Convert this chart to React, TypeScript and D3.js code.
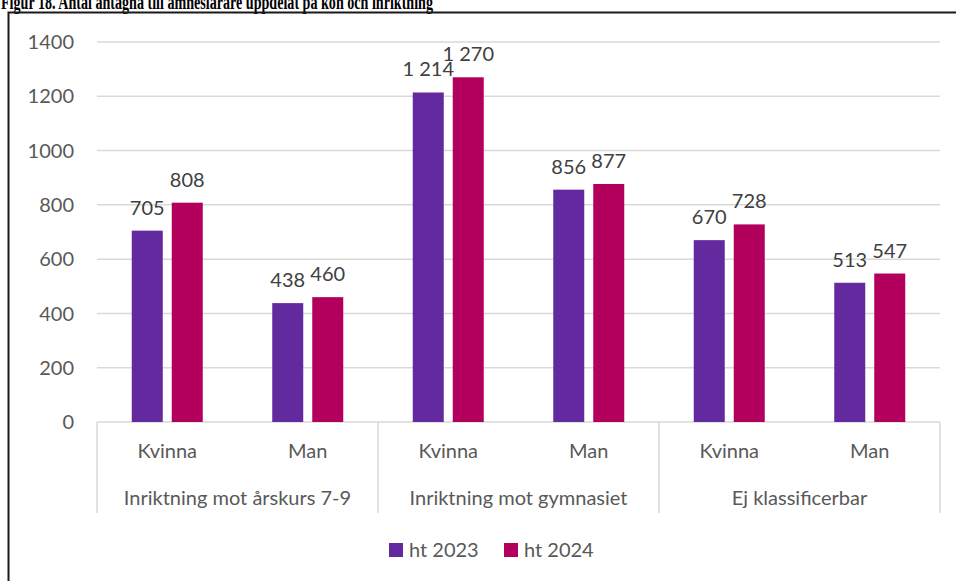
import React from "react";
import * as d3 from "d3";

const groups = ["Inriktning mot årskurs 7-9", "Inriktning mot gymnasiet", "Ej klassificerbar"];
const subcats = ["Kvinna", "Man"];
const seriesNames = ["ht 2023", "ht 2024"];
const ht2023 = [705, 438, 1214, 856, 670, 513];
const ht2024 = [808, 460, 1270, 877, 728, 547];
const yTicks = [0, 200, 400, 600, 800, 1000, 1200, 1400];
const colors = ["#63299F", "#B3005C"];
const title = "Figur 18. Antal antagna till ämneslärare uppdelat på kön och inriktning";

const W = 956, H = 581;
const plot = { left: 97, right: 940, top: 42, bottom: 422 };
const FONT = "Lato, 'Open Sans', sans-serif";
const TXT = "#595959";

export default function App() {
  const cats = groups.flatMap((g, gi) => subcats.map((s, si) => `${gi}-${si}`));
  const x0 = d3.scaleBand<string>().domain(cats).range([plot.left, plot.right]).padding(0);
  const xg = d3.scaleBand<string>().domain(groups).range([plot.left, plot.right]).padding(0);
  const x1 = d3.scaleBand<string>().domain(seriesNames).range([-35.5, 35.5]).paddingInner(0.225);
  const y = d3.scaleLinear().domain([0, 1400]).range([plot.bottom, plot.top]);
  const fmt = (v: number) => d3.format(",")(v).replace(/,/g, " ");
  const seriesData = [ht2023, ht2024];
  const axisBottom = 513;

  return (
    <svg width={W} height={H} style={{ position: "absolute", left: 0, top: 0, background: "#fff" }}>
      <text x={1} y={9} fontFamily="'Liberation Serif', 'DejaVu Serif', serif" fontWeight="bold" fontSize={20}
        textLength={432} lengthAdjust="spacingAndGlyphs" fill="#000">{title}</text>
      <rect x={8.5} y={12.5} width={1000} height={700} fill="none" stroke="#1a1a1a" strokeWidth={2} />
      {yTicks.map((t) => (
        <g key={t}>
          <line x1={plot.left} x2={plot.right} y1={y(t)} y2={y(t)} stroke="#D9D9D9" strokeWidth={1.5} />
          <text x={74} y={y(t)} dy="0.36em" textAnchor="end" fontFamily={FONT} fontSize={20} fill={TXT}>{t}</text>
        </g>
      ))}
      {[...groups.map((g) => xg(g)!), plot.right].map((xx, i) => (
        <line key={i} x1={xx} x2={xx} y1={plot.bottom} y2={axisBottom} stroke="#D9D9D9" strokeWidth={1.5} />
      ))}
      {seriesData.map((vals, si) =>
        vals.map((v, ci) => {
          const cx = x0(cats[ci])! + x0.bandwidth() / 2;
          const bx = cx + x1(seriesNames[si])!;
          return (
            <g key={`${si}-${ci}`}>
              <rect x={bx} y={y(v)} width={x1.bandwidth()} height={y(0) - y(v)} fill={colors[si]} />
              <text x={bx + x1.bandwidth() / 2} y={y(v) - 16} textAnchor="middle" fontFamily={FONT} fontSize={20} fill="#404040">{fmt(v)}</text>
            </g>
          );
        })
      )}
      {cats.map((c, ci) => (
        <text key={c} x={x0(c)! + x0.bandwidth() / 2} y={451} dy="0.36em" textAnchor="middle" fontFamily={FONT} fontSize={20} fill={TXT}>
          {subcats[ci % 2]}
        </text>
      ))}
      {groups.map((g) => (
        <text key={g} x={xg(g)! + xg.bandwidth() / 2} y={498} dy="0.36em" textAnchor="middle" fontFamily={FONT} fontSize={20} fill={TXT}>{g}</text>
      ))}
      {seriesNames.map((s, i) => {
        const lx = [389, 504][i];
        return (
          <g key={s}>
            <rect x={lx} y={543} width={14} height={14} fill={colors[i]} />
            <text x={lx + 20} y={550} dy="0.36em" fontFamily={FONT} fontSize={20} fill={TXT}>{s}</text>
          </g>
        );
      })}
    </svg>
  );
}
